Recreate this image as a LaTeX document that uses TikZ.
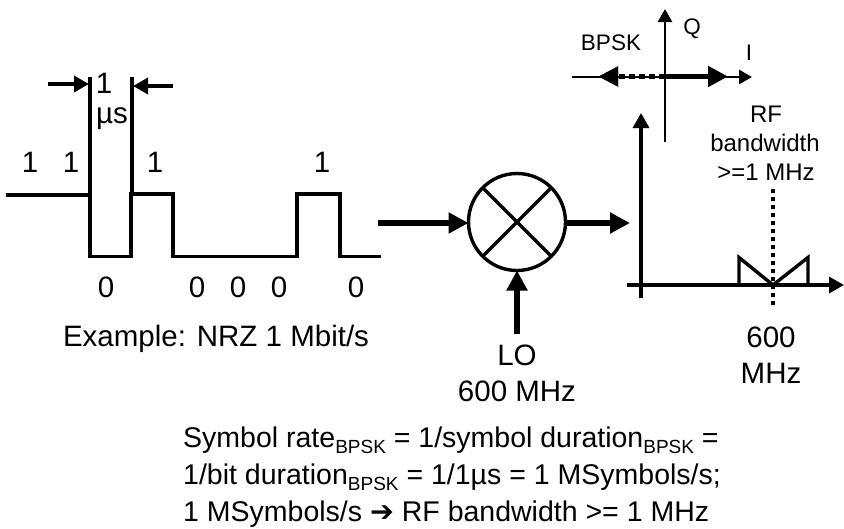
\documentclass[tikz,border=0pt]{standalone}
\usepackage{fontspec}
\setmainfont{Liberation Sans}
\newfontfamily\symfont{DejaVu Sans}
\usetikzlibrary{arrows.meta}
\newcommand{\bpsk}{\raisebox{-6pt}{\fontsize{19}{19}\selectfont BPSK}}

\begin{document}
\begin{tikzpicture}[x=1pt, y=-1pt, line join=miter]

% ------------------------------------------------
% Styles
% ------------------------------------------------
\tikzset{
    wave/.style={line width=3.4pt, black},
    marker/.style={line width=3.4pt, black},
    bigarrow/.style={line width=6pt, -{Triangle[length=20pt,width=20pt]}},
    midarrow/.style={line width=3.4pt, -{Triangle[length=15pt,width=16pt]}},
    thinarrow/.style={line width=2.8pt, -{Triangle[length=13pt,width=14pt]}},
    dotline/.style={line width=4pt, dash pattern=on 4pt off 4pt},
    lbl/.style={inner sep=0pt, font=\fontsize{29.5}{34}\selectfont},
    lblbottom/.style={inner sep=0pt, anchor=base west, font=\fontsize{28.5}{34}\selectfont},
    lblsmall/.style={inner sep=0pt, font=\fontsize{22.5}{27}\selectfont},
    lblrf/.style={inner sep=0pt, font=\fontsize{24}{29}\selectfont},
    mixerbox/.style={circle, draw, line width=3.4pt, minimum size=97pt, inner sep=0pt, outer sep=0pt},
}

\useasboundingbox (0,0) rectangle (844,528);

% ------------------------------------------------
% NRZ waveform
% ------------------------------------------------
\draw[wave] (6,195) -- (90,195) -- (90,256.5) -- (131,256.5) -- (131,194) -- (173,194)
    -- (173,256.5) -- (297,256.5) -- (297,194) -- (340,194) -- (340,256.5) -- (381,256.5);

\draw[marker] (90,77) -- (90,195);
\draw[marker] (132,77) -- (132,194);

\coordinate (durLs) at (48,84);
\coordinate (durLe) at (89,84);
\coordinate (durRs) at (173,86);
\coordinate (durRe) at (133,86);
\draw[midarrow] (durLs) -- (durLe);
\draw[midarrow] (durRs) -- (durRe);

\node[lbl] (durOne) at (104,83) {1};
\node[lbl] (durUnit) at (112,119) {µs};

% bits
\foreach \x/\name in {30/a,71/b,155/c,322/d}{
    \node[lbl] (one\name) at (\x,162) {1};
}
\foreach \x/\name in {106/a,197/b,238/c,279/d,356/e}{
    \node[lbl] (zero\name) at (\x,287) {0};
}

\node[lbl] (nrz) at (216,339) {Example: NRZ 1 Mbit/s};

% ------------------------------------------------
% Mixer
% ------------------------------------------------
\node[mixerbox] (mixer) at (517,222) {};
\draw[line width=3.4pt] (mixer.45) -- (mixer.225);
\draw[line width=3.4pt] (mixer.135) -- (mixer.315);

\coordinate (in) at (378,223);
\coordinate (out) at (630,223);
\coordinate (lofeed) at (517,334);
\draw[bigarrow] (in) -- (mixer.west |- in);
\draw[bigarrow] (mixer.east |- out) -- (out);
\draw[bigarrow] (lofeed) -- (mixer.south);

\node[lbl] (lo) at (517,355) {LO};
\node[lbl] (lofreq) at (517,391) {600 MHz};

% ------------------------------------------------
% Spectrum
% ------------------------------------------------
\coordinate (S) at (641,285);

\draw[midarrow] (641,298) -- (641,113);
\draw[midarrow] (627,285) -- (844,285);
\draw[dotline] (773,189) -- (773,308);
\draw[line width=3.4pt] (739,285) -- (739,257.5) -- (773,285) -- (808,257.5) -- (808,285);

\node[lblrf] (rf) at (766,114) {RF};
\node[lblrf] (rfbw) at (765,143) {bandwidth};
\node[lblrf] (rfmin) at (766,172) {>=1 MHz};

\node[lbl] (sixhundred) at (771,337) {600};
\node[lbl] (mhz) at (771,373) {MHz};

% ------------------------------------------------
% Constellation
% ------------------------------------------------
\coordinate (C) at (665,76.5);

\draw[thinarrow] (665,142) -- (665,9);
\draw[thinarrow] (572,77) -- (752,77);
\draw[line width=5pt, -{Triangle[length=20pt,width=20pt]}] (C) -- (728,76.5);
\draw[line width=5pt, dash pattern=on 6pt off 4pt] (C) -- (618,76.5);
\draw[fill=black] (618,66.5) -- (618,86.5) -- (599,76.5) -- cycle;

\node[lblsmall] (bpsk) at (611,43) {BPSK};
\node[lblsmall] (qaxis) at (692,29) {Q};
\node[lblsmall] (iaxis) at (749,53) {I};

% ------------------------------------------------
% Bottom text
% ------------------------------------------------
\node[lblbottom] (lineA) at (183,447) {Symbol rate\bpsk{} = 1/symbol duration\bpsk{} =};
\node[lblbottom] (lineB) at (183,484) {1/bit duration\bpsk{} = 1/1µs = 1 MSymbols/s;};
\node[lblbottom] (lineC) at (183,521) {1 MSymbols/s {\symfont ➔} RF bandwidth >= 1 MHz};

\end{tikzpicture}
\end{document}
